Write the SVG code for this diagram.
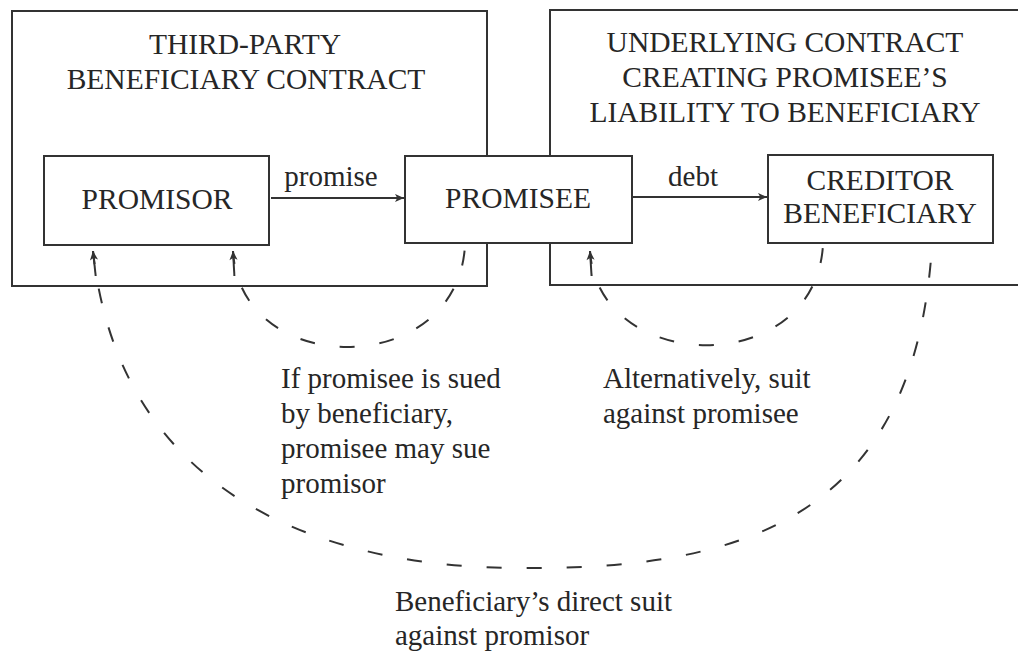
<svg xmlns="http://www.w3.org/2000/svg" width="1018" height="652" viewBox="0 0 1018 652">
  <style>
    .frame { fill: none; stroke: #333; stroke-width: 2; }
    .box { fill: #fff; stroke: #333; stroke-width: 2; }
    .caps { font-family: "Liberation Serif", "Times New Roman", serif; font-size: 29.5px; fill: #262626; text-anchor: middle; }
    .txt { font-family: "Liberation Serif", "Times New Roman", serif; font-size: 29px; fill: #262626; }
    .mid { text-anchor: middle; }
    .flow { fill: none; stroke: #333; stroke-width: 2; }
    .suit { fill: none; stroke: #333; stroke-width: 2; stroke-dasharray: 15 25; stroke-dashoffset: 2; }
  </style>
  <defs>
    <marker id="head" viewBox="0 0 10 10" refX="10" refY="5" markerWidth="11" markerHeight="9" markerUnits="userSpaceOnUse" orient="auto">
      <path d="M0,0.5 L10,5 L0,9.5 L2.5,5 z" fill="#333"/>
    </marker>
  </defs>

  <!-- contract frames -->
  <g id="third-party-contract">
    <rect class="frame" x="12" y="11" width="475" height="275"/>
    <text class="caps" x="245" y="54">THIRD-PARTY</text>
    <text class="caps" x="246" y="89">BENEFICIARY CONTRACT</text>
  </g>
  <g id="underlying-contract">
    <rect class="frame" x="550" y="10" width="490" height="275"/>
    <text class="caps" x="785" y="52">UNDERLYING CONTRACT</text>
    <text class="caps" x="785" y="87">CREATING PROMISEE’S</text>
    <text class="caps" x="785" y="122">LIABILITY TO BENEFICIARY</text>
  </g>

  <!-- connectors -->
  <g id="connectors">
    <line class="flow" x1="271" y1="198" x2="404" y2="198" marker-end="url(#head)"/>
    <text class="txt mid" x="331" y="186">promise</text>
    <line class="flow" x1="633" y1="197" x2="767" y2="197" marker-end="url(#head)"/>
    <text class="txt mid" x="693" y="186">debt</text>

    <!-- promisee's suit against promisor -->
    <path class="suit" d="M233 251 C240 380 458 380 465 245"/>
    <line class="flow" x1="234.4" y1="276" x2="233" y2="251" marker-end="url(#head)"/>
    <!-- beneficiary's suit against promisee -->
    <path class="suit" d="M590 251 C598 375 815 380 823 245"/>
    <line class="flow" x1="591.6" y1="276" x2="590" y2="251" marker-end="url(#head)"/>
    <!-- beneficiary's direct suit against promisor -->
    <path class="suit" d="M93 251 C120 500 330 568 520 568 C740 570 915 520 932 245"/>
    <line class="flow" x1="95.7" y1="276" x2="93" y2="251" marker-end="url(#head)"/>
  </g>

  <!-- parties -->
  <g id="promisor">
    <rect class="box" x="44" y="156" width="225" height="89"/>
    <text class="caps" x="157" y="209">PROMISOR</text>
  </g>
  <g id="promisee">
    <rect class="box" x="405" y="156" width="227" height="87"/>
    <text class="caps" x="518" y="208">PROMISEE</text>
  </g>
  <g id="creditor-beneficiary">
    <rect class="box" x="768" y="155" width="225" height="88"/>
    <text class="caps" x="880" y="190">CREDITOR</text>
    <text class="caps" x="880" y="223">BENEFICIARY</text>
  </g>

  <!-- annotations -->
  <g id="notes">
    <text class="txt" x="281" y="388">If promisee is sued</text>
    <text class="txt" x="281" y="423">by beneficiary,</text>
    <text class="txt" x="281" y="458">promisee may sue</text>
    <text class="txt" x="281" y="493">promisor</text>
    <text class="txt" x="603" y="388">Alternatively, suit</text>
    <text class="txt" x="603" y="423">against promisee</text>
    <text class="txt" x="395" y="611">Beneficiary’s direct suit</text>
    <text class="txt" x="395" y="645">against promisor</text>
  </g>
</svg>
